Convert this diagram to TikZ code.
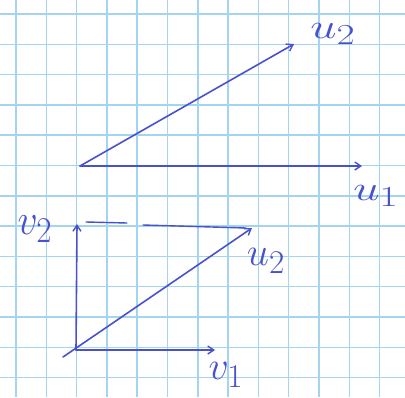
\documentclass[tikz,border=0pt]{standalone}
\usetikzlibrary{arrows.meta}
\definecolor{gridblue}{RGB}{165,212,240}
\definecolor{pen}{RGB}{72,82,205}
\tikzset{
  vec/.style={draw=pen, line width=1.6pt, line cap=round, -{Straight Barb[length=6pt,width=8pt,line width=1.4pt]}},
  plain/.style={draw=pen, line width=1.4pt, line cap=round},
  lbl/.style={text=pen, font=\Huge, inner sep=0pt, scale=1.6},
  ulbl/.style={text=pen, font=\Huge, inner sep=0pt, xscale=1.9, yscale=1.4},
  vlbl/.style={text=pen, font=\Huge, inner sep=0pt, xscale=1.6, yscale=1.75}
}
\begin{document}
\begin{tikzpicture}[x=1pt,y=-1pt]
\useasboundingbox (0,0) rectangle (405,397);
\fill[white] (0,0) rectangle (405,397);
% grid
\foreach \k in {0,...,12}{
  \draw[gridblue, line width=1.5pt] ({16+30.3*\k},0) -- ({16+30.3*\k},397);
  \draw[gridblue, line width=1.5pt] (0,{14+30.3*\k}) -- (405,{14+30.3*\k});
}
% top figure
\coordinate (O1) at (80,166);
\coordinate (U1) at (362,166);
\coordinate (U2) at (294,44);
\draw[vec] (O1) -- (U1);
\draw[vec] (O1) -- (U2);
\node[ulbl] (lu2) at (333,34) {$u_2$};
\node[ulbl] (lu1) at (376,196) {$u_1$};
% bottom figure
\coordinate (O2) at (76,350);
\coordinate (V1) at (215,350);
\coordinate (V2) at (77,224);
\coordinate (S) at (63,357);
\coordinate (W2) at (252,228);
\coordinate (D1) at (86,222);
\coordinate (D2) at (127,223);
\coordinate (D3) at (143,225);
\coordinate (D4) at (246,228);
\draw[vec] (O2) -- (V1);
\draw[vec] (O2) -- (V2);
\draw[vec] (S) -- (W2);
\draw[plain] (D1) -- (D2);
\draw[plain] (D3) -- (D4);
\node[vlbl] (lv2) at (35,229) {$v_2$};
\node[lbl] (lw2) at (266,261) {$u_2$};
\node[lbl] (lv1) at (226,375) {$v_1$};
\end{tikzpicture}
\end{document}
